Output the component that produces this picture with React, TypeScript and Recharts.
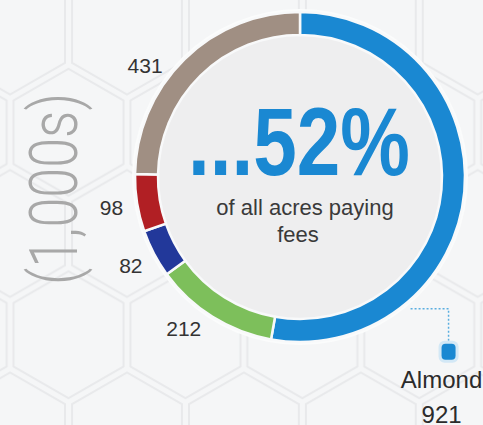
import React from "react";
import { PieChart, Pie, Cell } from "recharts";

// ---- data ----
const categories = ["Almond", "Crop B", "Crop C", "Crop D", "Crop E"];
const acres = [921, 212, 82, 98, 431];
const sliceColors = ["#1a88d2", "#7dbf5b", "#22389a", "#b11f24", "#a08f83"];
const headline = "...52%";
const subline = ["of all acres paying", "fees"];
const unitLabel = "(1,000s)";

const data = categories.map((name, i) => ({ name, value: acres[i] }));

// ---- layout ----
const W = 483;
const H = 425;
const CX = 300;
const CY = 177;
const OUTER = 165;
const INNER = 142;
const RAD = Math.PI / 180;
const FONT = "'Liberation Sans', Arial, Helvetica, sans-serif";

const polar = (cx: number, cy: number, r: number, a: number) => ({
  x: cx + r * Math.cos(-a * RAD),
  y: cy + r * Math.sin(-a * RAD),
});

// small angular nudges so labels sit where the original places them
const labelNudge = [0, -5.5, 0, 0, 9.7];

function renderLabel(props: any) {
  const { cx, cy, midAngle, outerRadius, index } = props;
  const value = props.value ?? acres[index];
  if (index === 0) {
    const a = polar(cx, cy, outerRadius + 7, -50);
    const ex = a.x + 38;
    const my = a.y + 43;
    return (
      <g>
        <polyline
          points={`${a.x},${a.y} ${ex},${a.y} ${ex},${my - 9}`}
          fill="none"
          stroke="#5aaee0"
          strokeWidth={1.5}
          strokeDasharray="2 2"
        />
        <rect x={ex - 10} y={my - 11} width={20} height={22} rx={6} fill="#d3e8f6" />
        <rect x={ex - 7} y={my - 8} width={14} height={16} rx={4} fill={sliceColors[0]} />
        <text x={ex - 7} y={my + 36} textAnchor="middle" fontSize={24} fontFamily={FONT} fill="#2b2b2b">
          {categories[index]}
        </text>
        <text x={ex - 7} y={my + 71} textAnchor="middle" fontSize={24} fontFamily={FONT} fill="#2b2b2b">
          {value}
        </text>
      </g>
    );
  }
  const p = polar(cx, cy, outerRadius + 26, midAngle + labelNudge[index]);
  return (
    <text
      x={p.x}
      y={p.y}
      textAnchor="middle"
      dominantBaseline="central"
      fontSize={21}
      fontFamily={FONT}
      fill="#333"
    >
      {value}
    </text>
  );
}

function hexPoints(cx: number, cy: number, r: number) {
  const pts: string[] = [];
  for (let k = 0; k < 6; k++) {
    const ang = (90 + 60 * k) * RAD;
    pts.push(`${cx + r * Math.cos(ang)},${cy + r * Math.sin(ang)}`);
  }
  return pts.join(" ");
}

const HR = 67.5;
const HW = HR * Math.sqrt(3);
const HV = HR * 1.5;

export default function App() {
  return (
    <div style={{ position: "absolute", left: 0, top: 0, width: W, height: H, overflow: "hidden", background: "#f5f6f7" }}>
      <svg width={W} height={H} style={{ position: "absolute", left: 0, top: 0 }}>
        <defs>
          <pattern id="hex" patternUnits="userSpaceOnUse" x={127 - HW} y={31} width={HW} height={HV * 2}>
            {[
              [0, 0],
              [HW, 0],
              [0, HV * 2],
              [HW, HV * 2],
              [HW / 2, HV],
            ].map(([x, y], i) => (
              <polygon key={i} points={hexPoints(x, y, HR - 4)} fill="none" stroke="#e8e9eb" strokeWidth={2} />
            ))}
          </pattern>
        </defs>
        <rect x={0} y={0} width={W} height={H} fill="#f5f6f7" />
        <rect x={0} y={0} width={W} height={H} fill="url(#hex)" />
        <circle cx={CX} cy={CY} r={OUTER + 3} fill="#fbfcfc" />
        <circle cx={CX} cy={CY} r={INNER} fill="#eeeeef" stroke="#e3e4e6" strokeWidth={1} />
      </svg>
      <div style={{ position: "absolute", left: 0, top: 0 }}>
        <PieChart width={W} height={H} margin={{ top: 0, right: 0, bottom: 0, left: 0 }}>
          <Pie
            data={data}
            dataKey="value"
            nameKey="name"
            cx={CX}
            cy={CY}
            innerRadius={INNER}
            outerRadius={OUTER}
            startAngle={90}
            endAngle={-270}
            stroke="#f8f9fa"
            strokeWidth={2.5}
            label={renderLabel}
            labelLine={false}
            isAnimationActive={false}
          >
            {data.map((d, i) => (
              <Cell key={d.name} fill={sliceColors[i]} />
            ))}
          </Pie>
        </PieChart>
      </div>
      <svg width={W} height={H} style={{ position: "absolute", left: 0, top: 0, pointerEvents: "none" }}>
        <text
          x={299}
          y={175}
          textAnchor="middle"
          fontSize={96}
          fontWeight="bold"
          fontFamily={FONT}
          fill={sliceColors[0]}
          textLength={222}
          lengthAdjust="spacingAndGlyphs"
        >
          {headline}
        </text>
        <text x={305} y={215} textAnchor="middle" fontSize={22} fontFamily={FONT} fill="#3a3a3a">
          {subline[0]}
        </text>
        <text x={298} y={242} textAnchor="middle" fontSize={22} fontFamily={FONT} fill="#3a3a3a">
          {subline[1]}
        </text>
        <text
          x={54}
          y={189}
          transform="rotate(-90 54 189)"
          textAnchor="middle"
          dominantBaseline="central"
          fontSize={66}
          fontWeight={300}
          fontFamily="Roboto, 'Liberation Sans', sans-serif"
          fill="#a8a8a8"
          textLength={192}
          lengthAdjust="spacingAndGlyphs"
        >
          {unitLabel}
        </text>
      </svg>
    </div>
  );
}
